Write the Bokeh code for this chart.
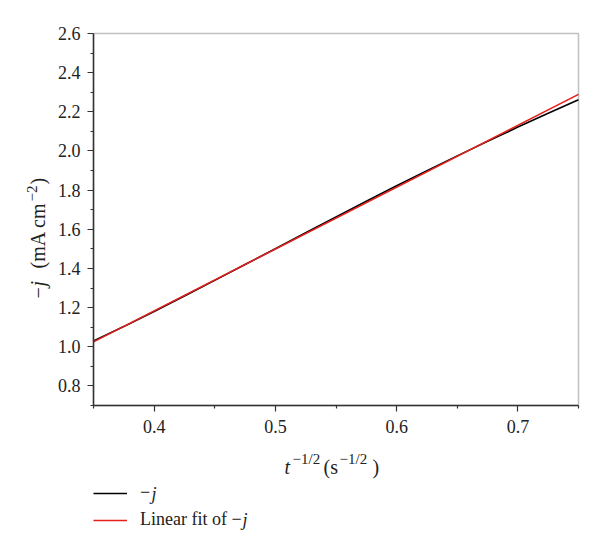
import math
from bokeh.plotting import figure
from bokeh.models import (Label, Legend, LegendItem, Range1d, FixedTicker,
                          PrintfTickFormatter, BoxAnnotation)
from bokeh.embed import file_html
from bokeh.resources import INLINE

# data
x_meas = [0.350, 0.375, 0.400, 0.425, 0.450, 0.475, 0.500, 0.525, 0.550,
          0.575, 0.600, 0.625, 0.650, 0.675, 0.700, 0.725, 0.750]
y_meas = [1.030, 1.103, 1.180, 1.259, 1.339, 1.420, 1.501, 1.582, 1.663,
          1.743, 1.822, 1.899, 1.975, 2.049, 2.122, 2.193, 2.262]
x_fit = [0.35, 0.75]
y_fit = [1.025, 2.289]
x_lim = (0.35, 0.75)
y_lim = (0.7, 2.6)
x_ticks = [0.4, 0.5, 0.6, 0.7]
x_minor = [0.35, 0.45, 0.55, 0.65, 0.75]
y_ticks = [0.8, 1.0, 1.2, 1.4, 1.6, 1.8, 2.0, 2.2, 2.4, 2.6]
y_minor = [0.7, 0.9, 1.1, 1.3, 1.5, 1.7, 1.9, 2.1, 2.3, 2.5]
legend_names = ["\u2212", "Linear fit of \u2212"]   # followed by an italic "j"

FONT = "Liberation Serif"
AX = "#333333"
TXT = "#222222"

# canvas and plot-box placement (pixels)
W, H = 592, 545
BOX_L, BOX_R, BOX_T, BOX_B = 93, 578, 33, 405
sx = (BOX_R - BOX_L) / (x_lim[1] - x_lim[0])
sy = (BOX_B - BOX_T) / (y_lim[1] - y_lim[0])
xr = Range1d(x_lim[0] - BOX_L / sx, x_lim[1] + (W - BOX_R) / sx)
yr = Range1d(y_lim[0] - (H - BOX_B) / sy, y_lim[1] + BOX_T / sy)

p = figure(width=W, height=H, output_backend="svg", toolbar_location=None,
           x_range=xr, y_range=yr, min_border=0,
           min_border_left=0, min_border_right=0, min_border_top=0, min_border_bottom=0)
p.outline_line_color = None
p.xgrid.visible = False
p.ygrid.visible = False
p.background_fill_color = "white"
p.border_fill_color = "white"

for ax in (p.xaxis[0], p.yaxis[0]):
    ax.axis_line_color = AX
    ax.axis_line_width = 1.5
    ax.major_tick_line_color = AX
    ax.minor_tick_line_color = AX
    ax.major_tick_line_width = 1.2
    ax.minor_tick_line_width = 1.2
    ax.major_tick_out = 6
    ax.major_tick_in = 0
    ax.minor_tick_out = 3
    ax.minor_tick_in = 0
    ax.major_label_text_font = FONT
    ax.major_label_text_font_size = "18px"
    ax.major_label_text_color = TXT
    ax.formatter = PrintfTickFormatter(format="%.1f")

p.xaxis[0].ticker = FixedTicker(ticks=x_ticks, minor_ticks=x_minor)
p.yaxis[0].ticker = FixedTicker(ticks=y_ticks, minor_ticks=y_minor)
p.xaxis[0].fixed_location = y_lim[0]
p.yaxis[0].fixed_location = x_lim[0]
p.xaxis[0].bounds = x_lim
p.yaxis[0].bounds = y_lim
p.xaxis[0].major_label_standoff = 8
p.yaxis[0].major_label_standoff = 7

# top / right sides of the plot box
p.add_layout(BoxAnnotation(left=x_lim[0], right=x_lim[1], bottom=y_lim[0], top=y_lim[1],
                           fill_alpha=0, line_color=AX, line_width=1.5))

r1 = p.line(x_meas, y_meas, line_color="black", line_width=1.6)
r2 = p.line(x_fit, y_fit, line_color="#e3201b", line_width=1.6)

legend = Legend(items=[LegendItem(label=legend_names[0], renderers=[r1]),
                       LegendItem(label=legend_names[1], renderers=[r2])],
                location=(BOX_L, H - 530), border_line_color=None, background_fill_alpha=0,
                label_text_font=FONT, label_text_font_size="18px", label_text_color=TXT,
                glyph_width=34, glyph_height=20, label_height=20, spacing=6,
                padding=0, margin=0, label_standoff=13)
p.add_layout(legend, "center")

def lab(text, px, py, size="20px", style="normal", angle=0.0, baseline="alphabetic"):
    # px, py: page pixels from the top-left corner
    p.add_layout(Label(x=px, y=H - py, x_units="screen", y_units="screen", text=text,
                       text_font=FONT, text_font_size=size, text_font_style=style,
                       text_color=TXT, angle=angle, text_baseline=baseline))

# italic "j" that ends each legend entry
lab("j", 151, 493, size="18px", style="italic", baseline="middle")
lab("j", 242, 519, size="18px", style="italic", baseline="middle")

# x axis label: t^{-1/2} (s^{-1/2})
lab("t", 284, 466, style="italic")
lab("\u22121/2", 292, 458, size="15px")
lab("(s", 323, 466)
lab("\u22121/2", 339, 458, size="15px")
lab(")", 372, 466)

# y axis label (rotated): -j (mA cm^{-2})
a = math.pi / 2
lab("\u2212", 37, 298, angle=a)
lab("j", 37, 286, style="italic", angle=a)
lab("(mA cm", 37, 268, angle=a)
lab("\u22122", 31, 201, size="15px", angle=a)
lab(")", 37, 184, angle=a)

open("out.html", "w").write(file_html(p, INLINE))
